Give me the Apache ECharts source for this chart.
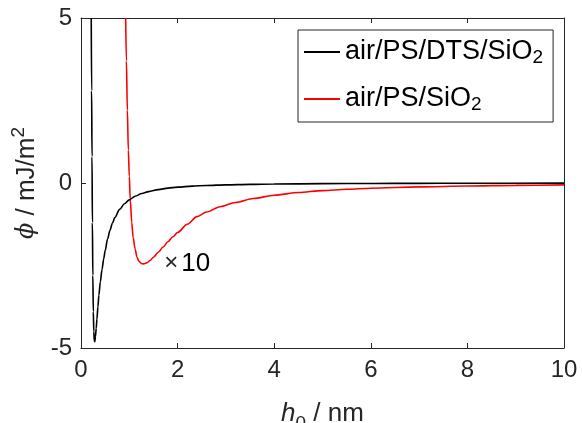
<!DOCTYPE html>
<html>
<head>
<meta charset="utf-8">
<script src="https://cdn.jsdelivr.net/npm/echarts@6/dist/echarts.min.js"></script>
<style>
  html, body { margin: 0; padding: 0; background: #fff; }
  #chart { width: 582px; height: 423px; }
</style>
</head>
<body>
<div id="chart"></div>
<script>
// values
var hBlack = [0.212, 0.22, 0.228, 0.236, 0.245, 0.255, 0.265, 0.275, 0.285, 0.3, 0.315, 0.33, 0.35, 0.37, 0.4, 0.435, 0.47, 0.5, 0.55, 0.6, 0.65, 0.7, 0.8, 0.9, 1.0, 1.12, 1.26, 1.4, 1.6, 1.8, 2.0, 2.3, 2.6, 3, 3.5, 4, 5, 6, 7, 8, 10];
var phiBlack = [5, 2.8, 0.8, -1.2, -2.8, -3.9, -4.5, -4.78, -4.81, -4.65, -4.4, -4.12, -3.75, -3.4, -3.0, -2.62, -2.3, -2.05, -1.7, -1.43, -1.22, -1.05, -0.8, -0.63, -0.51, -0.4, -0.32, -0.26, -0.2, -0.155, -0.126, -0.095, -0.075, -0.056, -0.041, -0.031, -0.02, -0.014, -0.01, -0.008, -0.005];
var hRed = [0.925, 0.94, 0.96, 0.98, 1.0, 1.02, 1.05, 1.08, 1.12, 1.16, 1.2, 1.25, 1.3, 1.36, 1.43, 1.5, 1.6, 1.7, 1.8, 1.9, 2.0, 2.2, 2.4, 2.6, 2.88, 3.2, 3.57, 4.0, 4.5, 5, 5.5, 6, 7, 8, 9, 10];
var phiRed = [5, 3.7, 2.2, 1.0, 0.2, -0.5, -1.2, -1.65, -2.0, -2.25, -2.37, -2.44, -2.45, -2.42, -2.35, -2.25, -2.1, -1.94, -1.78, -1.63, -1.5, -1.25, -1.02, -0.88, -0.72, -0.59, -0.47, -0.37, -0.29, -0.23, -0.19, -0.158, -0.118, -0.09, -0.072, -0.058];
var seriesNames = ['air/PS/DTS/SiO2', 'air/PS/SiO2'];
var xTicks = [0, 2, 4, 6, 8, 10];
var yTicks = [-5, 0, 5];

var font = '"Liberation Sans", Arial, sans-serif';
var ink = '#262626';

function pairs(xs, ys) {
  return xs.map(function (x, i) { return [x, ys[i]]; });
}

var chart = echarts.init(document.getElementById('chart'));

var axisCommon = {
  type: 'value',
  splitLine: { show: false },
  axisLine: { show: true, onZero: false, lineStyle: { color: ink, width: 1 } },
  axisTick: { show: true, inside: true, length: 5, lineStyle: { color: ink } }
};

var option = {
  animation: false,
  backgroundColor: '#fff',
  grid: { left: 81, top: 18, right: 18, bottom: 75, containLabel: false, outerBoundsMode: 'none' },
  legend: {
    orient: 'vertical',
    left: 298,
    top: 30,
    padding: [7, 10, 8, 6],
    itemGap: 17,
    itemWidth: 36,
    itemHeight: 2,
    icon: 'rect',
    borderColor: ink,
    borderWidth: 1,
    backgroundColor: '#fff',
    data: seriesNames,
    formatter: function (name) {
      return name.replace(/2$/, '{sub|2}');
    },
    textStyle: {
      fontFamily: font,
      fontSize: 27,
      color: '#000',
      lineHeight: 30,
      rich: {
        sub: { fontFamily: font, fontSize: 19, color: '#000', verticalAlign: 'bottom', lineHeight: 9 }
      }
    }
  },
  xAxis: [
    Object.assign({}, axisCommon, {
      position: 'bottom',
      min: xTicks[0], max: xTicks[xTicks.length - 1], interval: 2,
      axisLabel: { fontFamily: font, fontSize: 24, color: ink, margin: 10 },
      name: '{i|h}{sub|0} / nm',
      nameLocation: 'middle',
      nameGap: 47,
      nameTextStyle: {
        fontFamily: font, fontSize: 26, color: ink,
        rich: {
          i: { fontFamily: font, fontSize: 26, fontStyle: 'italic', color: ink },
          sub: { fontFamily: font, fontSize: 19, color: ink, verticalAlign: 'bottom', padding: [19, 0, 0, 0] }
        }
      }
    }),
    Object.assign({}, axisCommon, {
      position: 'top',
      min: xTicks[0], max: xTicks[xTicks.length - 1], interval: 2,
      axisLabel: { show: false }
    })
  ],
  yAxis: [
    Object.assign({}, axisCommon, {
      position: 'left',
      min: yTicks[0], max: yTicks[yTicks.length - 1], interval: 5,
      axisLabel: { fontFamily: font, fontSize: 24, color: ink, margin: 9 },
      name: '{i|ϕ} / mJ/m{sup|2}',
      nameLocation: 'middle',
      nameGap: 33,
      nameTextStyle: {
        fontFamily: font, fontSize: 26, color: ink,
        rich: {
          i: { fontFamily: '"DejaVu Serif", serif', fontSize: 24, fontStyle: 'italic', color: ink },
          sup: { fontFamily: font, fontSize: 19, color: ink, verticalAlign: 'top', padding: [0, 0, 15, 0] }
        }
      }
    }),
    Object.assign({}, axisCommon, {
      position: 'right',
      min: yTicks[0], max: yTicks[yTicks.length - 1], interval: 5,
      axisLabel: { show: false }
    })
  ],
  series: [
    {
      name: seriesNames[0],
      type: 'line',
      data: pairs(hBlack, phiBlack),
      showSymbol: false,
      symbol: 'none',
      smooth: 0.3,
      smoothMonotone: 'x',
      color: '#000000',
      lineStyle: { color: '#000000', width: 1.6 },
      z: 3
    },
    {
      name: seriesNames[1],
      type: 'line',
      data: pairs(hRed, phiRed),
      showSymbol: false,
      symbol: 'none',
      smooth: 0.3,
      smoothMonotone: 'x',
      color: '#ff0000',
      lineStyle: { color: '#ff0000', width: 1.6 },
      z: 2,
      markPoint: {
        symbol: 'circle',
        symbolSize: 0,
        silent: true,
        label: {
          show: true,
          formatter: '{x|×}10',
          fontFamily: font,
          fontSize: 26,
          color: '#000',
          rich: {
            x: { fontFamily: font, fontSize: 24, color: '#262626', padding: [0, 3, 0, 0] }
          }
        },
        data: [{ coord: [2.2, -2.45] }]
      }
    }
  ]
};

chart.setOption(option);
</script>
</body>
</html>
